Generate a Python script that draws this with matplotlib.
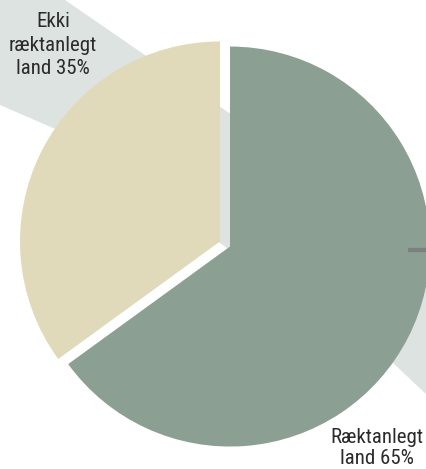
import matplotlib.pyplot as plt
from matplotlib.patches import Polygon
from matplotlib import font_manager

# land use shares (percent)
labels = ['Ræktanlegt\nland 65%', 'Ekki\nræktanlegt\nland 35%']
shares = [65, 35]
colors = ['#8b9f93', '#e0dabb']

W, H = 427, 469
band_color = '#dde3e0'
text_color = '#2b2b2b'

fams = {f.name for f in font_manager.fontManager.ttflist}
font = 'DejaVu Sans'
for cand in ['Liberation Sans Narrow', 'Roboto Condensed', 'Open Sans Condensed', 'Roboto']:
    if cand in fams:
        font = cand
        break


def px(pts):
    # pixel coords (origin top-left) -> data coords
    return [(x, H - y) for x, y in pts]


fig = plt.figure(figsize=(W / 100, H / 100), dpi=100)
ax = fig.add_axes([0, 0, 1, 1])

# callout bands behind the pie
ax.add_patch(Polygon(px([(0, 0), (65, 0), (232, 115), (230, 250), (60, 131), (0, 105)]),
                     closed=True, facecolor=band_color, edgecolor='none', zorder=0))
ax.add_patch(Polygon(px([(300, 300), (427, 255), (427, 395), (393, 363), (380, 351)]),
                     closed=True, facecolor=band_color, edgecolor='none', zorder=0))

wedges, _ = ax.pie(shares, colors=colors, startangle=90, counterclock=False,
                   explode=[5.6, 5.6], radius=200, center=(225, H - 244),
                   wedgeprops=dict(linewidth=0), frame=False)
for w in wedges:
    w.set_zorder(1)

# leader tick on the right edge
ax.plot([408, 427], [H - 250, H - 250], color='#7b7f7e', lw=3, zorder=2,
        solid_capstyle='butt')

ax.text(53, H - 45, labels[1], ha='center', va='center', fontsize=15,
        family=font, color=text_color, linespacing=1.28, zorder=3)
ax.text(377, H - 448, labels[0], ha='center', va='center', fontsize=15,
        family=font, color=text_color, linespacing=1.18, zorder=3)

ax.set_xlim(0, W)
ax.set_ylim(0, H)
ax.set_aspect('auto')
ax.axis('off')

fig.savefig('out.png', dpi=100)
